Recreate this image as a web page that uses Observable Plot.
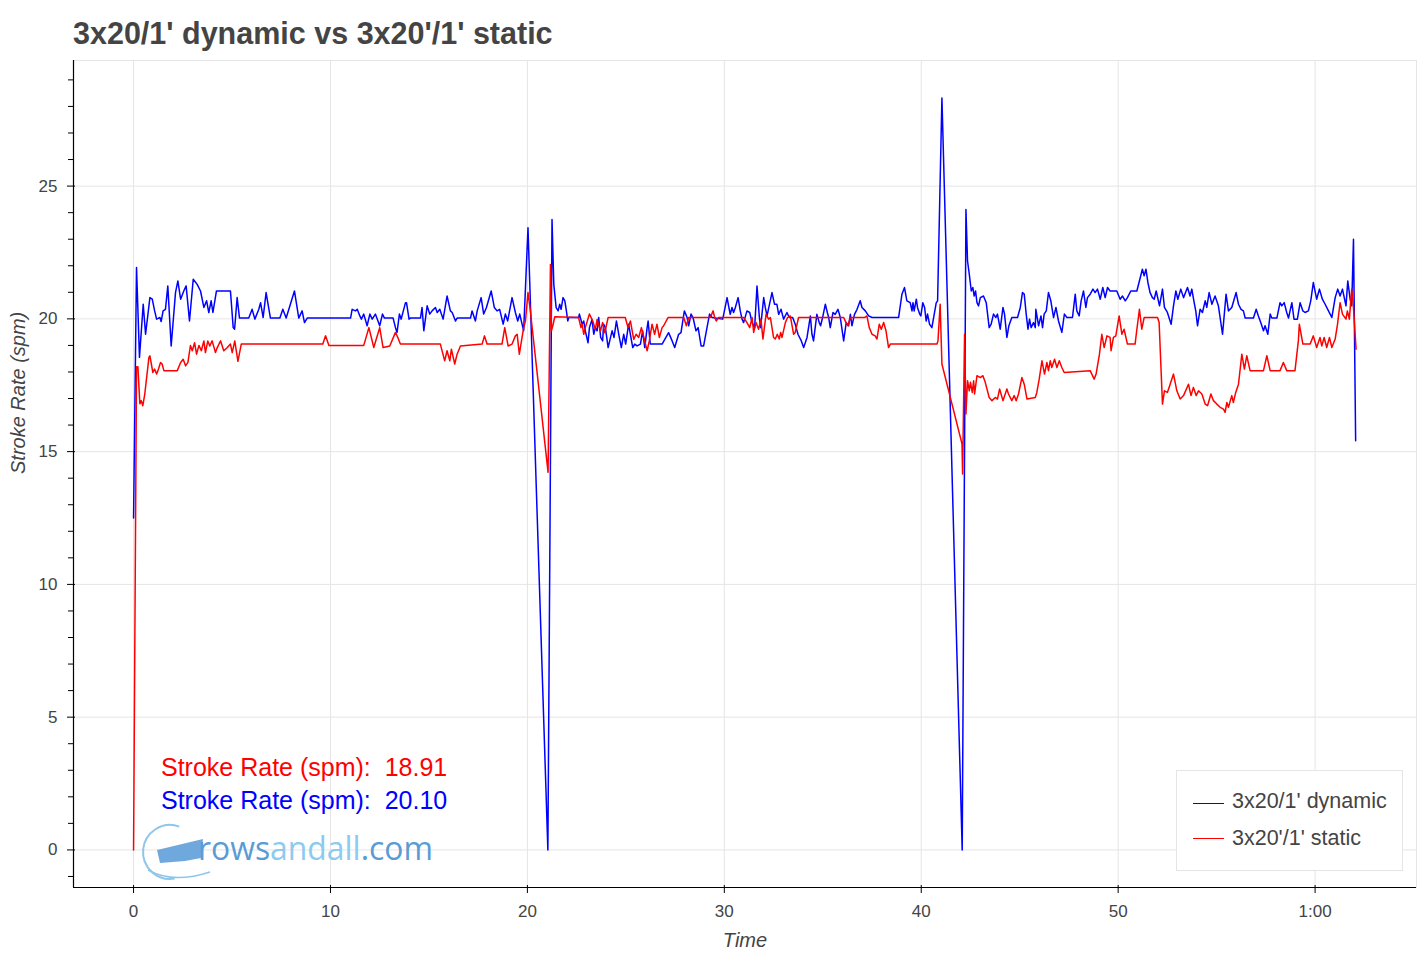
<!DOCTYPE html>
<html><head><meta charset="utf-8">
<script src="https://cdn.jsdelivr.net/npm/d3@7"></script>
<script src="https://cdn.jsdelivr.net/npm/@observablehq/plot@0.6"></script>
<style>
body{margin:0;background:#fff;font-family:"Liberation Sans",Arial,Helvetica,sans-serif;}
#wrap{position:relative;width:1424px;height:960px;overflow:hidden;}
#title{height:56px;box-sizing:border-box;padding:18px 0 0 73px;font-size:30.5px;font-weight:bold;color:#444;line-height:1;white-space:pre;}
.ann{position:absolute;left:161px;font-size:25px;line-height:1;white-space:pre;}
#legend{position:absolute;left:1176px;top:770px;width:227px;height:101px;box-sizing:border-box;border:1px solid #e5e5e5;background:#fff;}
.lgline{position:absolute;left:16px;width:31px;height:0;border-top:1.5px solid;}
.lgtext{position:absolute;left:55px;font-size:21.5px;line-height:1;color:#444;white-space:pre;}
#logo{position:absolute;left:138px;top:820px;pointer-events:none;}
</style></head>
<body>
<div id="wrap">
  <div id="title"></div>
  <div id="chart"></div>
  <div id="annRed" class="ann" style="top:755px;color:#ff0000"></div>
  <div id="annBlue" class="ann" style="top:788px;color:#0000ff"></div>
  <svg id="logo" width="310" height="72">
    <path d="M 41.2 6.6 A 27 27 0 1 0 36.7 58.6" fill="none" stroke="#8ec5ea" stroke-width="2"/>
    <path d="M 10 50 Q 35 64 72 52" fill="none" stroke="#8ec5ea" stroke-width="1.5"/>
    <polygon points="19,30 65,19 63,38 47,41 22,43" fill="#6fa8dc"/>
    <text x="60" y="40" font-family="Open Sans, Lato, sans-serif" font-size="32" textLength="235" lengthAdjust="spacingAndGlyphs"><tspan fill="#5b9bd5">rows</tspan><tspan fill="#8ccaef">andall</tspan><tspan fill="#5b9bd5">.com</tspan></text>
  </svg>
  <div id="legend"></div>
</div>
<script>
// ---- data ----
const titleText = "3x20/1' dynamic vs 3x20'/1' static";
const seriesNames = ["3x20/1' dynamic", "3x20'/1' static"];
const seriesColors = ["#0000ff", "#ff0000"];
const meanLabel = "Stroke Rate (spm):  ";
const meanDynamic = 20.10;
const meanStatic = 18.91;
const xLabel = "Time";
const yLabel = "Stroke Rate (spm)";
const xTicks = [0, 10, 20, 30, 40, 50, 60];
const xTickLabels = ["0", "10", "20", "30", "40", "50", "1:00"];
const yTicks = [0, 5, 10, 15, 20, 25];
const yMinorTicks = [-1, 1, 2, 3, 4, 6, 7, 8, 9, 11, 12, 13, 14, 16, 17, 18, 19, 21, 22, 23, 24, 26, 27, 28, 29];

// [time (minutes), stroke rate (spm)]
const dynamicRate = [
[0,12.5],[0.15,21.93],[0.3,18.55],[0.49,20.55],[0.61,19.42],[0.83,20.8],[0.95,20.74],[1.07,20.3],[1.17,19.99],[1.34,20.05],[1.4,19.9],[1.5,20.3],[1.62,20.36],[1.74,21.24],[1.91,18.98],[2.13,20.99],[2.25,21.43],[2.39,20.74],[2.55,21.05],[2.67,21.24],[2.84,19.92],[3.03,21.49],[3.23,21.3],[3.4,21.05],[3.57,20.43],[3.71,20.68],[3.82,20.24],[3.94,20.68],[4.03,20.24],[4.21,21.05],[4.92,21.05],[5.06,19.67],[5.13,19.61],[5.26,20.8],[5.38,20.03],[5.85,20.03],[6.02,20.36],[6.16,19.99],[6.36,20.36],[6.45,20.61],[6.58,20.05],[6.73,20.99],[6.95,20.03],[7.43,20.03],[7.58,20.36],[7.75,20.03],[8.17,21.05],[8.39,20.03],[8.56,20.3],[8.68,19.86],[8.82,20.03],[11.02,20.03],
[11.1,20.36],[11.27,20.3],[11.36,20.36],[11.49,20.11],[11.57,19.99],[11.69,20.18],[11.86,19.74],[12.0,20.18],[12.12,19.99],[12.28,20.18],[12.5,19.74],[12.64,20.18],[12.74,20.03],[13.18,20.03],[13.3,19.67],[13.38,19.49],[13.5,20.18],[13.59,19.99],[13.81,20.61],[13.86,20.61],[13.99,19.99],[14.06,20.03],[14.57,20.03],[14.65,20.43],[14.74,19.55],[14.91,20.49],[15.04,20.18],[15.16,20.3],[15.33,20.43],[15.42,20.24],[15.55,20.36],[15.72,19.99],[15.92,20.86],[16.09,20.3],[16.18,20.24],[16.35,19.92],[16.43,20.03],[17.11,20.03],[17.19,20.3],[17.36,19.92],[17.45,20.3],[17.65,20.8],[17.78,20.18],[17.92,20.43],[18.16,21.05],[18.32,20.43],[18.46,20.3],[18.59,20.36],[18.77,19.8],[18.88,20.18],[19.0,19.92],[19.22,20.8],[19.39,20.24],[19.51,19.92],[19.61,20.18],[19.81,19.55],[20.03,23.43],[21.04,0],[21.25,23.74],
[21.34,21.3],[21.46,20.42],[21.56,20.3],[21.64,20.55],[21.71,20.36],[21.81,20.8],[21.9,20.68],[21.98,20.3],[22.05,19.92],[22.1,20.05],[22.6,20.05],[22.64,20.18],[22.78,19.8],[22.86,19.92],[22.94,19.55],[23.08,19.1],[23.15,19.67],[23.28,19.98],[23.37,19.42],[23.45,19.67],[23.54,19.55],[23.62,20.05],[23.72,19.3],[23.82,19.17],[23.87,19.8],[23.96,19.67],[24.1,18.92],[24.18,19.17],[24.3,19.55],[24.4,19.3],[24.52,19.92],[24.64,19.42],[24.77,18.92],[24.89,19.42],[24.99,19.05],[25.14,19.8],[25.23,19.42],[25.35,18.92],[25.45,19.05],[25.57,18.98],[25.74,19.05],[25.85,19.55],[25.96,18.92],[26.08,19.67],[26.13,19.92],[26.24,19.05],[26.84,19.05],[27.17,19.48],[27.35,19.17],[27.48,18.92],[27.68,19.42],[27.8,19.48],[27.97,20.3],[28.11,20.05],[28.19,19.74],[28.31,20.18],[28.41,20.05],[28.56,19.55],[28.67,19.67],[28.82,18.98],[28.95,18.98],[29.12,19.67],[29.25,20.18],[29.38,20.05],[29.92,19.99],
[30.14,20.8],[30.25,20.36],[30.3,20.17],[30.39,20.43],[30.47,20.24],[30.56,20.43],[30.7,20.8],[30.81,20.3],[30.9,19.99],[30.98,19.86],[31.15,20.3],[31.29,20.24],[31.41,19.86],[31.54,19.67],[31.66,21.24],[31.78,20.05],[31.84,19.67],[32.0,20.8],[32.08,20.43],[32.17,20.11],[32.42,20.99],[32.55,20.55],[32.67,20.55],[32.76,20.17],[32.88,20.36],[33.01,19.99],[33.18,20.24],[33.3,20.05],[33.47,20.05],[33.6,19.8],[33.74,19.42],[33.91,19.17],[34.03,18.92],[34.2,19.3],[34.37,20.11],[34.45,19.42],[34.53,19.17],[34.7,20.17],[34.82,19.86],[34.89,19.74],[34.99,20.05],[35.13,20.55],[35.23,20.24],[35.3,20.05],[35.38,19.67],[35.52,20.24],[35.63,20.17],[35.77,20.36],[35.89,20.05],[36.06,19.17],[36.19,19.86],[36.31,19.74],[36.4,20.17],[36.48,19.74],[36.61,20.17],[36.74,20.36],[36.9,20.68],[36.99,20.43],[37.16,20.3],[37.33,20.11],[37.5,20.05],[38.85,20.05],[39.02,20.93],[39.15,21.18],[39.27,20.68],[39.44,20.61],[39.53,20.3],[39.58,20.61],[39.64,20.3],[39.75,20.74],[39.81,20.43],[39.92,20.18],[39.98,20.11],[40.08,20.61],[40.17,20.43],[40.25,19.92],[40.32,20.18],[40.42,19.8],[40.54,19.67],[40.66,20.18],[40.76,20.6],[40.83,20.68],[41.05,28.32],[42.08,0],[42.27,24.12],
[42.35,22.18],[42.44,21.68],[42.54,21.05],[42.62,21.18],[42.69,20.86],[42.76,21.05],[42.83,20.61],[42.91,20.49],[43.0,20.8],[43.16,20.86],[43.3,20.61],[43.45,19.67],[43.55,19.8],[43.67,20.18],[43.79,20.05],[43.87,20.18],[44.01,19.61],[44.15,20.43],[44.23,20.18],[44.35,19.3],[44.45,19.74],[44.6,20.05],[44.89,20.05],[45.03,20.43],[45.14,20.99],[45.23,20.93],[45.33,20.18],[45.42,19.61],[45.5,19.99],[45.58,19.67],[45.7,19.86],[45.79,19.67],[45.82,20.36],[45.96,19.74],[46.08,20.11],[46.16,19.67],[46.24,20.18],[46.35,20.3],[46.46,20.99],[46.58,20.68],[46.72,20.05],[46.84,20.43],[46.97,19.92],[47.14,19.49],[47.22,19.92],[47.27,20.18],[47.4,20.05],[47.68,20.05],[47.82,20.93],[47.9,20.3],[48.02,20.11],[48.12,20.68],[48.24,21.05],[48.36,20.43],[48.44,20.8],[48.58,20.93],[48.72,21.12],[48.83,20.99],[48.95,21.12],[49.09,20.74],[49.22,21.18],[49.34,20.8],[49.46,21.18],[49.59,21.05],[49.93,21.05],[50.1,20.74],[50.22,20.86],[50.36,20.68],[50.47,20.8],[50.64,21.05],[50.95,21.05],[51.12,21.55],[51.23,21.87],[51.32,21.62],[51.41,21.87],[51.51,21.37],[51.62,20.99],[51.74,20.8],[51.83,20.74],[51.93,21.05],[52.1,20.49],[52.25,21.12],[52.35,20.43],[52.5,20.24],[52.69,19.8],[52.81,20.49],[52.93,21.05],[53.03,20.74],[53.18,21.12],[53.32,20.8],[53.52,21.18],[53.65,20.86],[53.74,21.12],[53.86,20.61],[53.94,20.3],[54.03,19.74],[54.16,20.36],[54.28,20.24],[54.42,20.68],[54.5,20.43],[54.62,20.99],[54.76,20.55],[54.92,20.86],[55.09,20.49],[55.3,19.42],[55.48,20.93],[55.6,20.3],[55.77,20.43],[55.99,20.99],[56.11,20.55],[56.24,20.36],[56.36,20.3],[56.45,20.03],[56.87,20.03],[57.01,20.36],[57.12,20.11],[57.24,19.86],[57.38,19.55],[57.46,19.74],[57.6,19.42],[57.72,20.18],[57.8,20.03],[58.06,20.03],[58.22,20.61],[58.31,20.49],[58.43,20.61],[58.56,20.24],[58.65,20.03],[58.82,20.61],[58.93,19.99],[59.1,19.99],[59.24,20.61],[59.38,20.3],[59.49,20.24],[59.66,20.3],[59.78,20.68],[59.91,21.37],[60.08,20.74],[60.22,21.12],[60.37,20.74],[60.51,20.55],[60.68,20.3],[60.85,20.05],[61.02,20.8],[61.15,21.12],[61.27,20.86],[61.39,21.12],[61.57,20.49],[61.66,21.43],[61.78,20.74],[61.86,20.49],[61.95,23.0],[62.06,15.41]
];

const staticRate = [
[0,0],[0.15,18.2],[0.22,18.2],[0.32,16.8],[0.39,16.92],[0.47,16.73],[0.57,17.17],[0.78,18.55],[0.83,18.61],[0.98,17.98],[1.07,18.11],[1.17,17.92],[1.24,18.05],[1.37,18.36],[1.45,18.3],[1.54,18.05],[2.22,18.05],[2.39,18.36],[2.52,18.48],[2.64,18.23],[2.76,18.36],[2.89,19.0],[2.98,18.8],[3.1,19.1],[3.2,18.67],[3.32,19.0],[3.44,18.8],[3.57,19.17],[3.65,18.73],[3.77,19.17],[3.87,18.98],[3.99,19.17],[4.16,18.73],[4.25,18.92],[4.42,19.17],[4.58,18.8],[4.76,18.92],[4.92,19.05],[5.01,18.73],[5.14,19.17],[5.3,18.4],[5.47,19.05],[9.61,19.05],[9.75,19.36],[9.92,19.0],[11.69,19.0],[11.95,19.67],[12.2,18.92],[12.5,19.67],[12.67,18.92],[13.01,18.98],[13.3,19.49],[13.42,19.3],[13.55,19.05],[15.58,19.05],[15.8,18.42],[15.92,18.8],[16.06,18.42],[16.14,18.86],[16.31,18.3],[16.43,18.67],[16.6,18.98],[17.7,19.05],[17.82,19.36],[17.95,19.05],[18.71,19.05],[18.85,19.67],[19.02,18.98],[19.22,19.05],[19.39,19.36],[19.48,19.42],[19.59,18.67],[19.7,19.17],[19.81,19.67],[19.9,19.92],[20.03,20.99],[20.13,20.42],[21.05,14.22],[21.17,22.05],[21.22,19.55],[21.29,19.74],[21.39,20.08],
[22.6,20.05],[22.72,19.67],[22.78,19.8],[22.86,19.42],[22.94,19.67],[23.15,20.18],[23.32,19.92],[23.45,19.6],[23.54,19.98],[23.71,19.55],[23.82,19.86],[23.93,19.48],[24.1,20.05],[24.97,20.05],[25.11,19.67],[25.23,19.92],[25.4,19.23],[25.52,19.42],[25.65,19.3],[25.79,19.67],[26.08,18.8],[26.19,19.17],[26.33,19.8],[26.46,19.42],[26.58,19.8],[26.7,19.3],[26.84,19.67],[26.92,19.74],[27.14,20.05],[27.94,20.05],[28.07,19.74],[28.19,20.05],[29.29,20.05],[29.43,20.3],[29.51,20.05],[29.59,19.92],[29.71,20.05],[30.98,20.05],[31.15,19.86],[31.29,19.67],[31.41,20.05],[31.49,19.49],[31.61,19.86],[31.74,19.61],[31.86,19.99],[31.96,19.24],[32.12,20.17],[32.25,19.99],[32.34,20.05],[32.5,19.3],[32.59,19.24],[32.69,19.42],[32.79,19.24],[32.86,19.49],[32.93,19.3],[33.1,19.86],[33.21,20.05],[33.35,20.11],[33.52,19.42],[33.6,19.49],[33.77,20.05],[36.06,20.05],[36.18,19.86],[36.28,19.74],[36.4,20.05],[37.12,20.05],[37.24,20.11],[37.36,19.67],[37.5,19.42],[37.66,19.36],[37.75,19.24],[37.87,19.8],[37.97,19.61],[38.09,19.86],[38.21,19.55],[38.34,18.92],[38.43,19.05],[40.8,19.05],[40.85,19.17],[40.96,20.55],[41.05,18.3],[42.07,15.29],[42.1,14.16],[42.2,19.42],[42.27,16.42],
[42.35,17.67],[42.44,17.29],[42.5,17.61],[42.59,17.23],[42.66,17.67],[42.71,17.17],[42.83,17.86],[43.0,17.79],[43.13,17.86],[43.25,17.61],[43.45,17.04],[43.59,16.92],[43.76,17.04],[43.87,16.98],[43.98,17.36],[44.15,16.92],[44.35,17.36],[44.43,17.17],[44.6,16.92],[44.72,17.11],[44.82,16.92],[44.94,17.17],[45.11,17.79],[45.23,17.54],[45.37,16.98],[45.79,17.04],[45.87,17.23],[45.99,17.73],[46.13,18.42],[46.26,17.92],[46.38,18.36],[46.46,18.05],[46.55,18.42],[46.63,18.17],[46.77,18.48],[46.89,18.17],[47.01,18.42],[47.14,18.17],[47.26,17.98],[48.58,18.05],[48.78,17.73],[48.88,17.92],[49.05,18.67],[49.17,19.42],[49.29,18.92],[49.43,19.36],[49.59,19.3],[49.64,18.8],[49.76,19.3],[49.88,19.36],[50.05,20.11],[50.19,19.42],[50.3,19.61],[50.47,19.05],[50.86,19.05],[50.95,19.61],[51.08,20.36],[51.2,19.61],[51.32,20.05],[52.0,20.05],[52.08,19.86],[52.25,16.79],[52.35,17.29],[52.5,17.23],[52.64,17.54],[52.81,17.92],[52.98,17.29],[53.15,16.98],[53.32,17.11],[53.57,17.54],[53.7,17.11],[53.82,17.42],[53.96,17.11],[54.08,17.29],[54.25,17.17],[54.42,16.79],[54.54,16.73],[54.71,17.17],[54.84,16.92],[55.01,16.79],[55.18,16.67],[55.35,16.6],[55.43,16.48],[55.52,16.85],[55.6,16.67],[55.77,17.11],[55.85,16.85],[55.97,17.23],[56.11,17.54],[56.28,18.67],[56.41,18.11],[56.53,18.61],[56.7,18.05],[57.38,18.05],[57.55,18.61],[57.72,18.05],[58.22,18.05],[58.39,18.36],[58.56,18.05],[58.98,18.05],[59.15,19.17],[59.2,19.8],[59.38,19.05],[59.75,19.05],[59.91,19.36],[60.08,18.92],[60.25,19.3],[60.34,18.98],[60.46,19.3],[60.59,18.92],[60.73,19.3],[60.85,18.92],[61.02,19.24],[61.14,19.8],[61.27,20.61],[61.39,20.18],[61.57,19.99],[61.64,20.3],[61.74,19.99],[61.86,21.12],[61.95,20.43],[62.08,18.86]
];

// ---- page text ----
document.getElementById("title").textContent = titleText;
document.getElementById("annRed").textContent = meanLabel + meanStatic.toFixed(2);
document.getElementById("annBlue").textContent = meanLabel + meanDynamic.toFixed(2);

const legend = document.getElementById("legend");
seriesNames.forEach((name, i) => {
  const ln = document.createElement("div");
  ln.className = "lgline";
  ln.style.top = (i === 0 ? 31.5 : 67.3) + "px";
  ln.style.borderTopColor = seriesColors[i];
  legend.appendChild(ln);
  const tx = document.createElement("div");
  tx.className = "lgtext";
  tx.style.top = (i === 0 ? 20 : 56.5) + "px";
  tx.textContent = name;
  legend.appendChild(tx);
});

const fmtX = d => xTickLabels[xTicks.indexOf(d)];

const chart = Plot.plot({
  width: 1424,
  height: 904,
  marginLeft: 73,
  marginRight: 8,
  marginTop: 4,
  marginBottom: 73,
  x: {domain: [-3.05, 65.15]},
  y: {domain: [-1.415, 29.73]},
  style: {fontFamily: "'Liberation Sans', Arial, Helvetica, sans-serif", fontSize: "17px", color: "#444", background: "#fff"},
  marks: [
    Plot.frame({stroke: "#e5e5e5"}),
    Plot.gridX(xTicks, {stroke: "#e5e5e5", strokeOpacity: 1}),
    Plot.gridY(yTicks, {stroke: "#e5e5e5", strokeOpacity: 1}),
    Plot.line(dynamicRate, {x: d => d[0], y: d => d[1], stroke: seriesColors[0], strokeWidth: 1.5}),
    Plot.line(staticRate, {x: d => d[0], y: d => d[1], stroke: seriesColors[1], strokeWidth: 1.5}),
    Plot.ruleX([-3.05], {stroke: "#000", strokeWidth: 1.2}),
    Plot.ruleY([-1.415], {stroke: "#000", strokeWidth: 1.2}),
    Plot.axisY(yTicks, {tickSize: 8, dx: 2, fill: "none", stroke: "#000"}),
    Plot.axisY(yMinorTicks, {tickSize: 5, fill: "none", stroke: "#000"}),
    Plot.axisY(yTicks, {tickSize: 0, tickPadding: 16, label: null, fontSize: 17, fill: "#444"}),
    Plot.axisX(xTicks, {tickSize: 8, dy: -2, fill: "none", stroke: "#000"}),
    Plot.axisX(xTicks, {tickSize: 0, tickPadding: 17, tickFormat: fmtX, label: null, fontSize: 17, fill: "#444"}),
    Plot.text([xLabel], {text: d => d, frameAnchor: "bottom", dy: 53, fontStyle: "italic", fontSize: 20, fill: "#444", lineAnchor: "middle"}),
    Plot.text([yLabel], {text: d => d, frameAnchor: "left", dx: -55, rotate: -90, fontStyle: "italic", fontSize: 20, fill: "#444", lineAnchor: "middle"})
  ]
});
document.getElementById("chart").appendChild(chart);
</script>
</body></html>
